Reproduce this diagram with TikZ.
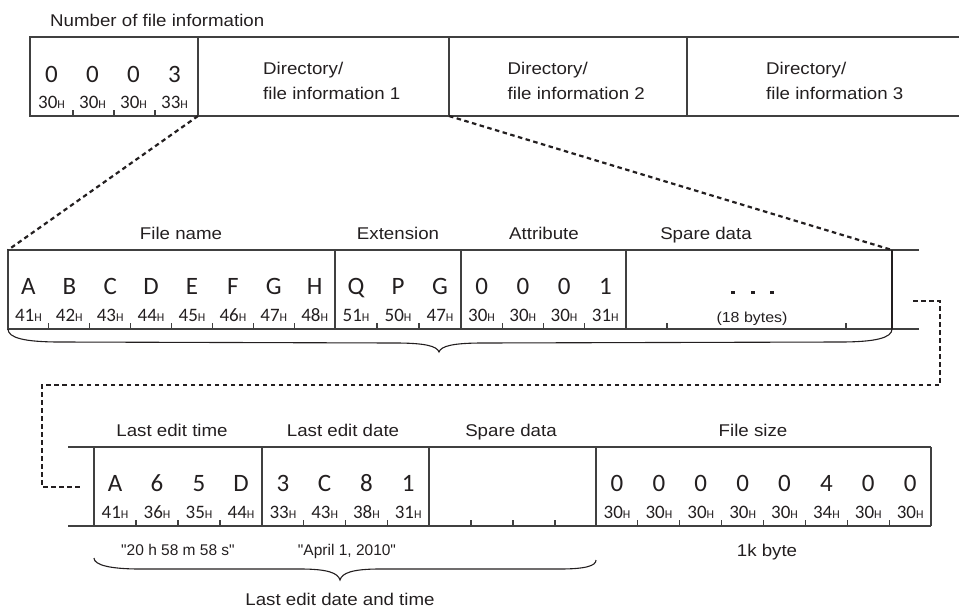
\documentclass[tikz,border=0pt]{standalone}
\usepackage{fontspec}
\setmainfont{Liberation Sans}
\newfontfamily\lblfont{Liberation Sans}[FakeStretch=1.1]
\newfontfamily\plainlbl{Liberation Sans}
\newfontfamily\chfont{Carlito}
\newcommand\hx[1]{#1{\fontsize{12}{12}\selectfont H}}
\definecolor{ink}{HTML}{231F20}
\definecolor{linegray}{HTML}{404040}
\tikzset{
  lbl/.style={font=\lblfont\fontsize{17}{20}\selectfont, anchor=base, inner sep=0pt, text=ink},
  plbl/.style={font=\plainlbl\fontsize{15.5}{18}\selectfont, anchor=base, inner sep=0pt, text=ink},
  dirlbl/.style={font=\lblfont\fontsize{17}{20}\selectfont, anchor=base west, inner sep=0pt, text=ink},
  ch/.style={font=\chfont\fontsize{25}{25}\selectfont, anchor=base, inner sep=0pt, text=ink},
  hex/.style={font=\chfont\fontsize{19}{19}\selectfont, anchor=base, inner sep=0pt, text=ink},
  boxline/.style={draw=linegray, line width=1.4pt},
  tickline/.style={draw=linegray, line width=1.1pt},
  dashconn/.style={draw=ink, line width=2.2pt, dash pattern=on 4.5pt off 3.5pt},
  bracepath/.style={draw=ink, line width=1.1pt},
  dotbox/.style={fill=ink, draw=none, minimum size=3.8pt, inner sep=0pt, rectangle}
}
\begin{document}
\begin{tikzpicture}[x=1pt,y=-1pt]
\useasboundingbox (0,0) rectangle (959,608);

% ---------------- top row ----------------
\node[lbl, anchor=base west] (nfi) at (50,26.5) {Number of file information};
\draw[boxline] (959,37) -- (30,37) -- (30,116) -- (959,116);
\draw[boxline] (198,37) -- (198,116);
\draw[boxline] (449,37) -- (449,116);
\draw[boxline] (687,37) -- (687,116);
\foreach \c/\h [count=\i from 0] in {0/30,0/30,0/30,3/33}{
  \node[ch]  (tc\i) at ({51.5+41*\i},82) {\c};
  \node[hex] (th\i) at ({51.5+41*\i},108) {\hx{\h}};
}
\foreach \x in {73,114,155} \draw[tickline] (\x,116) -- (\x,110);
\node[dirlbl] (d1a) at (263,74) {Directory/};
\node[dirlbl] (d1b) at (263,99) {file information 1};
\node[dirlbl] (d2a) at (507.5,74) {Directory/};
\node[dirlbl] (d2b) at (507.5,99) {file information 2};
\node[dirlbl] (d3a) at (766,74) {Directory/};
\node[dirlbl] (d3b) at (766,99) {file information 3};
\coordinate (tA) at (198,116);
\coordinate (tB) at (449,116);

% ---------------- middle row ----------------
\node[lbl] (lfn)  at (181,239) {File name};
\node[lbl] (lext) at (398,239) {Extension};
\node[lbl] (latt) at (544,239) {Attribute};
\node[lbl] (lspr) at (706,239) {Spare data};
\draw[boxline] (919,250) -- (8,250) -- (8,329) -- (919,329);
\draw[boxline] (335,250) -- (335,329);
\draw[boxline] (461,250) -- (461,329);
\draw[boxline] (626,250) -- (626,329);
\draw[bracepath] (892,250) -- (892,329);
\coordinate (mA) at (8,250);
\coordinate (mB) at (892,250);
\foreach \c/\h [count=\i from 0] in {A/41,B/42,C/43,D/44,E/45,F/46,G/47,H/48}{
  \node[ch]  (mc\i) at ({28.4+40.9*\i},294) {\c};
  \node[hex] (mh\i) at ({28.4+40.9*\i},321) {\hx{\h}};
}
\foreach \i in {1,...,7} \draw[tickline] ({8+40.9*\i},329) -- ({8+40.9*\i},323);
\foreach \c/\h [count=\i from 0] in {Q/51,P/50,G/47}{
  \node[ch]  (ec\i) at ({356+42*\i},294) {\c};
  \node[hex] (eh\i) at ({356+42*\i},321) {\hx{\h}};
}
\foreach \x in {377,419} \draw[tickline] (\x,329) -- (\x,323);
\foreach \c/\h [count=\i from 0] in {0/30,0/30,0/30,1/31}{
  \node[ch]  (ac\i) at ({481.6+41.25*\i},294) {\c};
  \node[hex] (ah\i) at ({481.6+41.25*\i},321) {\hx{\h}};
}
\foreach \x in {502.25,543.5,584.75} \draw[tickline] (\x,329) -- (\x,323);
\node[dotbox] (sd1) at (733,292.5) {};
\node[dotbox] (sd2) at (753,292.5) {};
\node[dotbox] (sd3) at (772,292.5) {};
\node[lbl, font=\lblfont\fontsize{14.5}{16}\selectfont] (s18) at (752,322) {(18 bytes)};
\foreach \x in {667,846} \draw[tickline] (\x,329) -- (\x,323);
\coordinate (mbr) at (439,352);
\draw[bracepath] (8,329) .. controls (8,338) and (25,342) .. (60,342)
  -- (395,343) .. controls (425,343) and (437,346) .. (mbr)
  .. controls (441,346) and (453,343) .. (483,343)
  -- (840,342) .. controls (875,342) and (892,338) .. (892,329);

% dashed links
\draw[dashconn] (tA) -- (mA);
\draw[dashconn] (tB) -- (mB);
\coordinate (c1) at (913,301);
\coordinate (c2) at (80,487);
\draw[dashconn] (c1) -- (940,301) -- (940,385) -- (42,385) -- (42,487) -- (c2);

% ---------------- bottom row ----------------
\node[lbl] (llt) at (172,436.5) {Last edit time};
\node[lbl] (lld) at (343,436.5) {Last edit date};
\node[lbl] (lsp) at (511,436.5) {Spare data};
\node[lbl] (lfs) at (753,436.5) {File size};
\draw[boxline] (68,447) -- (931,447);
\draw[boxline] (68,526) -- (931,526);
\draw[boxline] (94,447) -- (94,526);
\draw[boxline] (262,447) -- (262,526);
\draw[boxline] (429,447) -- (429,526);
\draw[boxline] (596,447) -- (596,526);
\draw[boxline] (931,447) -- (931,526);
\foreach \c/\h [count=\i from 0] in {A/41,6/36,5/35,D/44}{
  \node[ch]  (bc\i) at ({115+42*\i},491) {\c};
  \node[hex] (bh\i) at ({115+42*\i},518) {\hx{\h}};
}
\foreach \c/\h [count=\i from 0] in {3/33,C/43,8/38,1/31}{
  \node[ch]  (dc\i) at ({282.9+41.75*\i},491) {\c};
  \node[hex] (dh\i) at ({282.9+41.75*\i},518) {\hx{\h}};
}
\foreach \c/\h [count=\i from 0] in {0/30,0/30,0/30,0/30,0/30,4/34,0/30,0/30}{
  \node[ch]  (fc\i) at ({617+41.875*\i},491) {\c};
  \node[hex] (fh\i) at ({617+41.875*\i},518) {\hx{\h}};
}
\foreach \x in {136,178,220,303.75,345.5,387.25,471,513,555}
  \draw[tickline] (\x,526) -- (\x,520);
\foreach \i in {1,...,7} \draw[tickline] ({596+41.875*\i},526) -- ({596+41.875*\i},520);
\node[plbl] (q1) at (178,555) {"20 h 58 m 58 s"};
\node[plbl] (q2) at (347,555) {"April 1, 2010"};
\node[lbl] (kb) at (767,556) {1k byte};
\coordinate (bbr) at (340,580);
\draw[bracepath] (94,558) .. controls (94,565) and (110,569) .. (140,569)
  -- (300,569) .. controls (328,569) and (338,573) .. (bbr)
  .. controls (342,573) and (352,569) .. (380,569)
  -- (560,569) .. controls (585,569) and (596,566) .. (596,560);
\node[lbl] (ledt) at (340,605) {Last edit date and time};
\end{tikzpicture}
\end{document}
